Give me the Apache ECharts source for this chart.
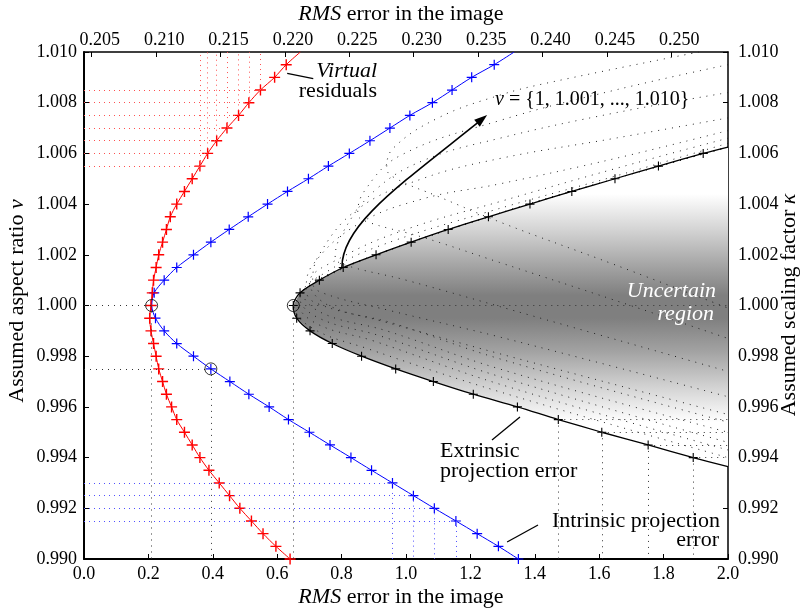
<!DOCTYPE html>
<html><head><meta charset="utf-8">
<script src="https://cdn.jsdelivr.net/npm/echarts@6/dist/echarts.min.js"></script>
<style>html,body{margin:0;padding:0;background:#fff}#c{width:805px;height:612px}</style>
</head><body><div id="c"></div>
<script>
// ---------------- data ----------------
// assumed aspect ratio nu (left axis), 0.990 ... 1.010 step 0.0005
const nuValues = [0.9900,0.9905,0.9910,0.9915,0.9920,0.9925,0.9930,0.9935,0.9940,0.9945,
  0.9950,0.9955,0.9960,0.9965,0.9970,0.9975,0.9980,0.9985,0.9990,0.9995,
  1.0000,1.0005,1.0010,1.0015,1.0020,1.0025,1.0030,1.0035,1.0040,1.0045,
  1.0050,1.0055,1.0060,1.0065,1.0070,1.0075,1.0080,1.0085,1.0090,1.0095,1.0100];
// virtual residuals (top axis RMS)
const virtualRms = [0.2204,0.2193,0.2183,0.2174,0.2165,0.2157,0.2149,0.2141,0.2134,0.2128,
  0.2122,0.2116,0.2112,0.2108,0.2105,0.2102,0.2100,0.2098,0.2096,0.2095,
  0.2096,0.2097,0.2098,0.2100,0.2102,0.2105,0.2108,0.2111,0.2116,0.2122,
  0.2128,0.2134,0.2140,0.2147,0.2155,0.2164,0.2172,0.2181,0.2192,0.2201,0.2212];
// intrinsic projection error (bottom axis RMS)
const intrinsicRms = [1.349,1.287,1.221,1.155,1.088,1.023,0.958,0.893,0.829,0.764,
  0.700,0.635,0.575,0.512,0.453,0.394,0.340,0.288,0.249,0.222,
  0.210,0.218,0.249,0.288,0.340,0.394,0.451,0.510,0.570,0.632,
  0.697,0.759,0.824,0.888,0.950,1.012,1.082,1.143,1.204,1.274,1.336];
// extrinsic projection error vs assumed scaling factor kappa (right axis)
const extKappa = [0.99364,0.9940,0.9945,0.9950,0.9955,0.9960,0.9965,0.9970,0.9975,0.9980,
  0.9985,0.9990,0.9995,1.0000,1.0005,1.0010,1.0015,1.0020,1.0025,1.0030,
  1.0035,1.0040,1.0045,1.0050,1.0055,1.0060,1.00625];
const extRms = [2.0,1.892,1.752,1.608,1.473,1.346,1.209,1.085,0.968,0.862,
  0.771,0.702,0.6605,0.650,0.671,0.731,0.805,0.907,1.016,1.131,
  1.256,1.385,1.515,1.649,1.784,1.923,2.0];
// dotted family, nu = 1.001 ... 1.010  ([rms, kappa])
const famNu1001 = [[2.0,1.00625],[1.649,1.0050],[1.256,1.0035],[0.907,1.0020],[0.731,1.0010],[0.671,1.0005],[0.652,1.0000],[0.71,0.9991],[0.88,0.9983],[1.29,0.9966],[2.0,0.9940]];
const famNu1002 = [[2.0,1.00625],[1.649,1.0050],[1.256,1.0035],[0.907,1.0020],[0.731,1.0010],[0.66,1.0002],[0.72,0.9993],[0.90,0.9986],[1.29,0.9969],[2.0,0.9943]];
const famNu1003 = [[2.0,1.00625],[1.649,1.0050],[1.256,1.0035],[0.907,1.0020],[0.805,1.0015],[0.70,1.0008],[0.67,1.0003],[0.73,0.9995],[0.92,0.9988],[1.29,0.9972],[2.0,0.9946]];
const famNu1004 = [[2.0,1.0064],[1.649,1.0051],[1.256,1.0037],[0.907,1.0023],[0.75,1.0013],[0.68,1.0005],[0.74,0.9997],[0.94,0.9990],[1.29,0.9975],[2.0,0.9950]];
const famNu1005 = [[2.0,1.0066],[1.65,1.0054],[1.292,1.0041],[1.0,1.0030],[0.80,1.0019],[0.70,1.0009],[0.76,1.0000],[0.96,0.9993],[1.29,0.9979],[2.0,0.9954]];
const famNu1006 = [[2.0,1.0069],[1.65,1.0058],[1.292,1.0048],[1.05,1.0042],[0.85,1.0032],[0.71,1.0016],[0.69,1.0006],[0.72,1.0001],[0.92,0.9994],[1.29,0.9981],[2.0,0.9957]];
const famNu1007 = [[2.0,1.0074],[1.65,1.0066],[1.292,1.0058],[1.05,1.0050],[0.85,1.0038],[0.73,1.0020],[0.71,1.0009],[0.74,1.0005],[0.95,0.9998],[1.29,0.99876],[2.0,0.9964]];
const famNu1008 = [[2.0,1.0084],[1.65,1.0076],[1.292,1.0066],[1.05,1.0057],[0.90,1.0045],[0.80,1.0028],[0.78,1.0019],[0.81,1.0016],[1.0,1.0010],[1.39,0.9996],[2.0,0.9974]];
const famNu1009 = [[2.0,1.0095],[1.65,1.0085],[1.292,1.0073],[0.98,1.0059],[0.87,1.0045],[0.85,1.0036],[0.88,1.0033],[1.05,1.0027],[1.29,1.0017],[1.65,1.0002],[2.0,0.9987]];
const famNu1010 = [[1.91,1.0100],[1.447,1.0088],[1.292,1.0083],[1.10,1.0074],[0.96,1.0062],[0.94,1.0054],[0.97,1.0050],[1.10,1.0043],[1.30,1.00325],[1.65,1.0016],[2.0,0.9999]];
const famCurves = [famNu1001,famNu1002,famNu1003,famNu1004,famNu1005,famNu1006,famNu1007,famNu1008,famNu1009,famNu1010];
// arrow showing increasing nu: start, two bezier controls, tip ([rms, kappa])
const arrowBezier = [[0.801,1.00152],[0.801,1.00318],[0.981,1.00475],[1.252,1.00751]];
// highlighted points (circles)
const circlePts = [[0.21,1.000],[0.394,0.9975],[0.65,1.000]];
// drop-line selections
const redDropNu = [1.0055,1.0060,1.0065,1.0070,1.0075,1.0080,1.0085];
const blueDropNu = [0.9915,0.9920,0.9925,0.9930];
const blackDropKappa = [0.9940,0.9945,0.9950,0.9955];
// leader lines [x1,y1,x2,y2]
const leaderLines = [[0.631,1.00916,0.712,1.00895],[1.267,0.99469,1.354,0.9956],[1.314,0.99067,1.410,0.99134]];
// axis ranges
const bottomRange = [0, 2.0], topRange = [0.2044, 0.2544], nuRange = [0.990, 1.010];
// shading stops [kappa, colour]
const shadeStops = [[1.0044,'#ffffff'],[1.0030,'#d4d4d4'],[1.0015,'#a2a2a2'],[1.0004,'#7f7f7f'],[0.9995,'#7f7f7f'],[0.9982,'#a2a2a2'],[0.9968,'#d2d2d2'],[0.9954,'#ffffff']];

// ---------------- chart ----------------
const FONT = '"Liberation Serif","Times New Roman",serif';
const PLUS = 'path://M0,5L10,5M5,0L5,10';
const TS = 22;   // title / annotation font size
const LS = 18;   // tick label font size
const chart = echarts.init(document.getElementById('c'));

function idxOf(nu){ return Math.round((nu - nuValues[0]) / 0.0005); }
function curveData(xs, ys, noSymbolLast){
  return xs.map((x,i)=>{
    const it = {value:[x, ys[i]]};
    if (noSymbolLast && i === xs.length-1) it.symbol = 'none';
    return it;
  });
}
const dotBlack = {type:[1,5], color:'#333', width:1};
const dotRed = {type:[1,4], color:'#ff5050', width:1};
const dotBlue = {type:[1,4], color:'#5050ff', width:1};
function ml(lines, style){
  return {symbol:['none','none'], silent:true, animation:false, label:{show:false},
    lineStyle:style, emphasis:{disabled:true},
    data: lines.map(l=>[{coord:l[0]},{coord:l[1]}])};
}

const redLines = [];
redDropNu.forEach(nu=>{ const x = virtualRms[idxOf(nu)];
  redLines.push([[topRange[0],nu],[x,nu]]); redLines.push([[x,nu],[x,nuRange[1]]]); });
const blueLines = [];
blueDropNu.forEach(nu=>{ const x = intrinsicRms[idxOf(nu)];
  blueLines.push([[bottomRange[0],nu],[x,nu]]); blueLines.push([[x,nu],[x,nuRange[0]]]); });
const blackLines = [];
blackDropKappa.forEach(k=>{ const x = extRms[extKappa.indexOf(k)];
  blackLines.push([[x,k],[x,nuRange[0]]]); blackLines.push([[x,k],[bottomRange[1],k]]); });
const circleLines = [
  [[bottomRange[0],circlePts[0][1]],circlePts[0]], [circlePts[0],[circlePts[0][0],nuRange[0]]],
  [[bottomRange[0],circlePts[1][1]],circlePts[1]], [circlePts[1],[circlePts[1][0],nuRange[0]]],
  [circlePts[2],[bottomRange[1],circlePts[2][1]]], [circlePts[2],[circlePts[2][0],nuRange[0]]]
];

const axisLabelBase = {fontSize:LS, fontFamily:FONT, color:'#000'};
const series = [];
// shaded uncertain region
series.push({type:'custom', xAxisIndex:0, yAxisIndex:1, data:[[1,1]], silent:true, z:1, clip:true,
  renderItem:function(params, api){
    const pts = extRms.map((r,i)=>api.coord([r, extKappa[i]]));
    const st = shadeStops.map(s=>({y:api.coord([0,s[0]])[1], c:s[1]}));
    const y0 = st[0].y, y1 = st[st.length-1].y;
    const grad = new echarts.graphic.LinearGradient(0,y0,0,y1, st.map(s=>({offset:(s.y-y0)/(y1-y0), color:s.c})), true);
    return {type:'polygon', shape:{points:pts}, style:{fill:grad, stroke:null}};
  }});
// dotted family
famCurves.forEach(c=>series.push({type:'line', xAxisIndex:0, yAxisIndex:1, data:c, smooth:0.4,
  showSymbol:false, symbol:'none', silent:true, z:2, lineStyle:{type:[1,6], color:'#222', width:1}, emphasis:{disabled:true}}));
// arrow
series.push({type:'custom', xAxisIndex:0, yAxisIndex:1, data:[[1,1]], silent:true, z:6,
  renderItem:function(params, api){
    const p = arrowBezier.map(q=>api.coord(q));
    const tip = p[3], c2 = p[2];
    const a = Math.atan2(tip[1]-c2[1], tip[0]-c2[0]);
    const L = 13, W = 4.5;
    const bx = tip[0]-L*Math.cos(a), by = tip[1]-L*Math.sin(a);
    const head = [tip,[bx+W*Math.sin(a), by-W*Math.cos(a)],[bx-W*Math.sin(a), by+W*Math.cos(a)]];
    return {type:'group', children:[
      {type:'bezierCurve', shape:{x1:p[0][0], y1:p[0][1], cpx1:p[1][0], cpy1:p[1][1], cpx2:p[2][0], cpy2:p[2][1], x2:bx+3*Math.cos(a), y2:by+3*Math.sin(a)},
        style:{stroke:'#000', lineWidth:1.6, fill:null}},
      {type:'polygon', shape:{points:head}, style:{fill:'#000'}}]};
  }});
// leader lines
series.push({type:'custom', xAxisIndex:0, yAxisIndex:0, data:leaderLines, silent:true, z:6,
  encode:{x:[0,2], y:[1,3]},
  renderItem:function(params, api){
    const p1 = api.coord([api.value(0), api.value(1)]), p2 = api.coord([api.value(2), api.value(3)]);
    return {type:'line', shape:{x1:p1[0],y1:p1[1],x2:p2[0],y2:p2[1]}, style:{stroke:'#000', lineWidth:1.3}};
  }});
// extrinsic (black)
series.push({type:'line', name:'Extrinsic', xAxisIndex:0, yAxisIndex:1, z:4,
  data: extRms.map((x,i)=>{const it={value:[x,extKappa[i]]}; if(i===0||i===extRms.length-1) it.symbol='none'; return it;}),
  smooth:0.3, symbol:PLUS, symbolSize:9, showAllSymbol:true,
  itemStyle:{color:'none', borderColor:'#000', borderWidth:1.1},
  lineStyle:{color:'#000', width:1.3}, emphasis:{disabled:true}, silent:true,
  markLine: ml(blackLines, dotBlack)});
// intrinsic (blue)
series.push({type:'line', name:'Intrinsic', xAxisIndex:0, yAxisIndex:0, z:4,
  data: curveData(intrinsicRms, nuValues, true),
  smooth:0.3, symbol:PLUS, symbolSize:10, showAllSymbol:true,
  itemStyle:{color:'none', borderColor:'#0000ff', borderWidth:1.2},
  lineStyle:{color:'#0000ff', width:1}, emphasis:{disabled:true}, silent:true,
  markLine: ml(blueLines, dotBlue)});
// virtual residuals (red, top axis)
series.push({type:'line', name:'Virtual', xAxisIndex:1, yAxisIndex:0, z:4,
  data: curveData(virtualRms, nuValues, true),
  smooth:0.3, symbol:PLUS, symbolSize:11, showAllSymbol:true,
  itemStyle:{color:'none', borderColor:'#ff0000', borderWidth:1.4},
  lineStyle:{color:'#ff0000', width:1}, emphasis:{disabled:true}, silent:true,
  markLine: ml(redLines, dotRed)});
// circles
series.push({type:'scatter', xAxisIndex:0, yAxisIndex:0, z:5, data:circlePts,
  symbol:'circle', symbolSize:12, itemStyle:{color:'none', borderColor:'#000', borderWidth:1},
  emphasis:{disabled:true}, silent:true, markLine: ml(circleLines, dotBlack)});

const tickStyle = {inside:true, length:5, lineStyle:{color:'#000', width:1}};
const richI = {i:{fontStyle:'italic', fontSize:TS, fontFamily:FONT}};
const option = {
  animation:false,
  grid:{left:84, right:77, top:52, bottom:53},
  xAxis:[
    {type:'value', position:'bottom', min:bottomRange[0], max:bottomRange[1], interval:0.2,
     axisLine:{onZero:false, lineStyle:{color:'#000', width:2}}, axisTick:tickStyle, splitLine:{show:false},
     axisLabel:Object.assign({margin:6, formatter:v=>v.toFixed(1)}, axisLabelBase)},
    {type:'value', position:'top', min:topRange[0], max:topRange[1], splitNumber:10, minInterval:0.005, maxInterval:0.005,
     axisLine:{onZero:false, lineStyle:{color:'#000', width:1.5}}, axisTick:tickStyle, splitLine:{show:false},
     axisLabel:Object.assign({margin:3, showMinLabel:false, showMaxLabel:false, padding:[0,0,0,16],
       formatter:v=>(Math.abs(v/0.005-Math.round(v/0.005))<1e-6 ? v.toFixed(3) : '')}, axisLabelBase)}
  ],
  yAxis:[
    {type:'value', position:'left', min:nuRange[0], max:nuRange[1], interval:0.002,
     axisLine:{onZero:false, lineStyle:{color:'#000', width:2}}, axisTick:tickStyle, splitLine:{show:false},
     axisLabel:Object.assign({margin:7, formatter:v=>v.toFixed(3)}, axisLabelBase)},
    {type:'value', position:'right', min:nuRange[0], max:nuRange[1], interval:0.002,
     axisLine:{onZero:false, lineStyle:{color:'#000', width:1.5}}, axisTick:tickStyle, splitLine:{show:false},
     axisLabel:Object.assign({margin:10, formatter:v=>v.toFixed(3)}, axisLabelBase)}
  ],
  series: series,
  graphic:[
    {type:'text', x:401, y:14, style:{text:'{i|RMS} error in the image', align:'center', verticalAlign:'middle',
      font:TS+'px '+FONT, fill:'#000', rich:richI}},
    {type:'text', x:401, y:597, style:{text:'{i|RMS} error in the image', align:'center', verticalAlign:'middle',
      font:TS+'px '+FONT, fill:'#000', rich:richI}},
    {type:'text', x:17, y:301, rotation:Math.PI/2, style:{text:'Assumed aspect ratio {i|ν}', align:'center', verticalAlign:'middle',
      font:TS+'px '+FONT, fill:'#000', rich:richI}},
    {type:'text', x:789, y:305, rotation:Math.PI/2, style:{text:'Assumed scaling factor {i|κ}', align:'center', verticalAlign:'middle',
      font:TS+'px '+FONT, fill:'#000', rich:richI}},
    {type:'text', x:377, y:71, style:{text:'Virtual', align:'right', verticalAlign:'middle', font:'italic '+TS+'px '+FONT, fill:'#000'}},
    {type:'text', x:377, y:91, style:{text:'residuals', align:'right', verticalAlign:'middle', font:TS+'px '+FONT, fill:'#000'}},
    {type:'text', x:495, y:100, style:{text:'{i|ν} = {1, 1.001, ..., 1.010}', align:'left', verticalAlign:'middle',
      font:'20px '+FONT, fill:'#000', rich:{i:{fontStyle:'italic', fontSize:20, fontFamily:FONT}}}},
    {type:'text', x:716, y:291, z:10, style:{text:'Uncertain', align:'right', verticalAlign:'middle', font:'italic '+TS+'px '+FONT, fill:'#fff'}},
    {type:'text', x:714, y:314, z:10, style:{text:'region', align:'right', verticalAlign:'middle', font:'italic '+TS+'px '+FONT, fill:'#fff'}},
    {type:'text', x:440, y:451, style:{text:'Extrinsic', align:'left', verticalAlign:'middle', font:TS+'px '+FONT, fill:'#000'}},
    {type:'text', x:440, y:471, style:{text:'projection error', align:'left', verticalAlign:'middle', font:TS+'px '+FONT, fill:'#000'}},
    {type:'text', x:720, y:521, style:{text:'Intrinsic projection', align:'right', verticalAlign:'middle', font:TS+'px '+FONT, fill:'#000'}},
    {type:'text', x:719, y:540, style:{text:'error', align:'right', verticalAlign:'middle', font:TS+'px '+FONT, fill:'#000'}}
  ]
};
chart.setOption(option);
</script>
</body></html>
